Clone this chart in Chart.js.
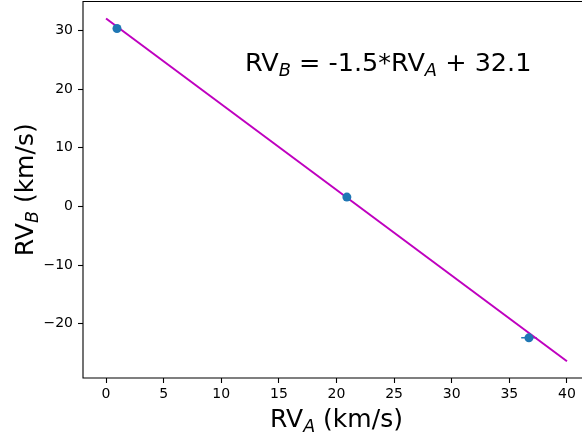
<!DOCTYPE html>
<html>
<head>
<meta charset="utf-8">
<script src="https://cdn.jsdelivr.net/npm/chart.js@4.4.1/dist/chart.umd.min.js"></script>
<style>
  html, body { margin: 0; padding: 0; background: #fff; overflow: hidden; }
  #wrap { width: 582px; height: 436px; overflow: hidden; position: relative; }
  #c { display: block; margin-top: -3px; }
</style>
</head>
<body>
<div id="wrap"><canvas id="c" width="600" height="439"></canvas></div>
<script>
// Measured points (RV_A, RV_B) with error bars
const rvA = [0.95, 20.9, 36.7];
const rvB = [30.35, 1.6, -22.4];
const rvAErr = [0.2, 0.2, 0.67];
const rvBErr = [0.3, 0.3, 0.3];
// Fitted line end points
const fitX = [0, 40];
const fitY = [32.05, -26.4];
// Tick labels
const xTicks = [0, 5, 10, 15, 20, 25, 30, 35, 40];
const yTicks = [-20, -10, 0, 10, 20, 30];
const xRange = [-2, 42];
const yRange = [-29.25, 34.95];

const FONT = "'DejaVu Sans', sans-serif";
const SHIFT = 3; // canvas is moved up by this many pixels

function drawSubText(ctx, parts, x, y, size) {
  let cx = x;
  for (const p of parts) {
    if (p.sub) {
      ctx.font = "italic " + (size * 0.7) + "px " + FONT;
      ctx.fillText(p.t, cx, y + size * 0.2);
    } else {
      ctx.font = size + "px " + FONT;
      ctx.fillText(p.t, cx, y);
    }
    cx += ctx.measureText(p.t).width;
  }
  return cx - x;
}
function measureSubText(ctx, parts, size) {
  let w = 0;
  for (const p of parts) {
    ctx.font = (p.sub ? "italic " + (size * 0.7) : size) + "px " + FONT;
    w += ctx.measureText(p.t).width;
  }
  return w;
}

const labelPlugin = {
  id: 'labels',
  beforeDatasetsDraw(chart) {
    const ctx = chart.ctx, xs = chart.scales.x, ys = chart.scales.y;
    ctx.save();
    ctx.strokeStyle = '#1f77b4';
    ctx.lineWidth = 1.5;
    for (let i = 0; i < rvA.length; i++) {
      const px = xs.getPixelForValue(rvA[i]), py = ys.getPixelForValue(rvB[i]);
      ctx.beginPath();
      ctx.moveTo(xs.getPixelForValue(rvA[i] - rvAErr[i]), py);
      ctx.lineTo(xs.getPixelForValue(rvA[i] + rvAErr[i]), py);
      ctx.moveTo(px, ys.getPixelForValue(rvB[i] - rvBErr[i]));
      ctx.lineTo(px, ys.getPixelForValue(rvB[i] + rvBErr[i]));
      ctx.stroke();
    }
    ctx.restore();
  },
  afterDraw(chart) {
    const ctx = chart.ctx, a = chart.chartArea;
    ctx.save();
    // keep the cropped right part of the plot clean
    ctx.fillStyle = '#fff';
    ctx.fillRect(574, a.top + 1, 30, a.bottom - a.top - 2);
    ctx.strokeStyle = '#000';
    ctx.lineWidth = 1.1;
    ctx.beginPath();
    ctx.moveTo(a.right, a.top);
    ctx.lineTo(a.left, a.top);
    ctx.lineTo(a.left, a.bottom);
    ctx.lineTo(a.right, a.bottom);
    ctx.stroke();
    ctx.fillStyle = '#000';
    ctx.textBaseline = 'alphabetic';
    ctx.textAlign = 'left';
    const size = 25;
    const xt = [{t: 'RV'}, {t: 'A', sub: true}, {t: ' (km/s)'}];
    const wx = measureSubText(ctx, xt, size);
    drawSubText(ctx, xt, (a.left + a.right) / 2 - wx / 2, 426.5 + SHIFT, size);
    const yt = [{t: 'RV'}, {t: 'B', sub: true}, {t: ' (km/s)'}];
    const wy = measureSubText(ctx, yt, size);
    ctx.save();
    ctx.translate(33, (a.top + a.bottom) / 2);
    ctx.rotate(-Math.PI / 2);
    drawSubText(ctx, yt, -wy / 2, 0, size);
    ctx.restore();
    const an = [{t: 'RV'}, {t: 'B', sub: true}, {t: ' = -1.5*RV'}, {t: 'A', sub: true}, {t: ' + 32.1'}];
    drawSubText(ctx, an, 245, 71 + SHIFT, 25.5);
    ctx.restore();
  }
};

const tickFmt = v => (v < 0 ? '\u2212' + Math.abs(v) : String(v));

new Chart(document.getElementById('c'), {
  data: {
    datasets: [
      {
        type: 'scatter',
        data: rvA.map((v, i) => ({x: v, y: rvB[i]})),
        backgroundColor: '#1f77b4',
        borderWidth: 0,
        pointRadius: 4.5,
        pointHoverRadius: 4.5,
        order: 0
      },
      {
        type: 'line',
        data: fitX.map((v, i) => ({x: v, y: fitY[i]})),
        borderColor: '#bf00bf',
        borderWidth: 2,
        pointRadius: 0,
        fill: false,
        order: 1
      }
    ]
  },
  options: {
    responsive: false,
    animation: false,
    events: [],
    layout: { padding: { top: 2, right: 10, left: 0, bottom: 0 } },
    plugins: { legend: { display: false }, tooltip: { enabled: false } },
    scales: {
      x: {
        type: 'linear',
        min: xRange[0], max: xRange[1],
        afterBuildTicks: s => { s.ticks = xTicks.map(v => ({value: v})); },
        afterFit: s => { s.height = 58; s.paddingLeft = 0; s.paddingRight = 0; },
        grid: { drawOnChartArea: false, drawTicks: true, tickLength: 5, tickWidth: 1.1, tickColor: '#000' },
        border: { display: false },
        ticks: { callback: tickFmt, color: '#000', font: { family: FONT, size: 14 }, padding: 3, maxRotation: 0, autoSkip: false }
      },
      y: {
        type: 'linear',
        min: yRange[0], max: yRange[1],
        afterBuildTicks: s => { s.ticks = yTicks.map(v => ({value: v})); },
        afterFit: s => { s.width = 83; s.paddingTop = 0; s.paddingBottom = 0; },
        grid: { drawOnChartArea: false, drawTicks: true, tickLength: 5, tickWidth: 1.1, tickColor: '#000' },
        border: { display: false },
        ticks: { callback: tickFmt, color: '#000', font: { family: FONT, size: 14 }, padding: 5, autoSkip: false }
      }
    }
  },
  plugins: [labelPlugin]
});
</script>
</body>
</html>
